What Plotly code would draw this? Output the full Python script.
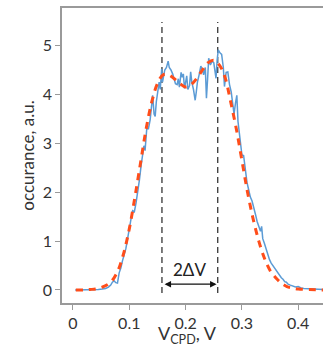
import plotly.graph_objects as go

# Measured distribution (blue, noisy)
meas_x = [0.004, 0.015, 0.025, 0.035, 0.045, 0.052, 0.058, 0.063, 0.067, 0.070, 0.073, 0.076, 0.079,
          0.082, 0.085, 0.088, 0.091, 0.094, 0.097, 0.100, 0.103, 0.106, 0.109, 0.112, 0.115, 0.118,
          0.121, 0.124, 0.126, 0.128, 0.131, 0.134, 0.137, 0.139, 0.1415, 0.144, 0.146, 0.148, 0.151,
          0.153, 0.155, 0.1575, 0.159, 0.161, 0.163, 0.166, 0.169, 0.171, 0.174, 0.177, 0.180, 0.182,
          0.185, 0.187, 0.189, 0.192, 0.194, 0.196, 0.198, 0.200, 0.202, 0.204, 0.207, 0.209, 0.211,
          0.214, 0.217, 0.219, 0.221, 0.224, 0.227, 0.230, 0.232, 0.235, 0.237, 0.239, 0.241, 0.244,
          0.247, 0.250, 0.252, 0.254, 0.256, 0.258, 0.261, 0.264, 0.267, 0.269, 0.272, 0.275, 0.278,
          0.281, 0.284, 0.286, 0.289, 0.291, 0.293, 0.295, 0.298, 0.300, 0.303, 0.306, 0.309, 0.312,
          0.315, 0.318, 0.321, 0.324, 0.327, 0.330, 0.333, 0.335, 0.337, 0.340, 0.343, 0.346, 0.349,
          0.352, 0.355, 0.358, 0.361, 0.364, 0.367, 0.370, 0.373, 0.376, 0.379, 0.382, 0.386, 0.390,
          0.395, 0.400, 0.405, 0.410, 0.420, 0.430, 0.445]
meas_y = [0.0, 0.0, 0.0, 0.0, 0.01, 0.02, 0.03, 0.06, 0.10, 0.16, 0.19, 0.15, 0.14,
          0.35, 0.45, 0.60, 0.72, 0.85, 1.05, 1.30, 1.45, 1.62, 1.60, 1.78, 2.00, 2.25,
          2.55, 2.80, 2.95, 2.85, 3.30, 3.30, 3.48, 3.70, 3.98, 3.60, 3.55, 3.85, 4.05,
          4.25, 4.10, 4.52, 4.25, 4.40, 4.50, 4.55, 4.68, 4.55, 4.50, 4.42, 4.30, 4.22,
          4.20, 4.32, 4.15, 4.45, 4.35, 4.42, 4.12, 4.30, 4.38, 4.10, 4.18, 4.46, 4.25,
          4.10, 3.88, 4.05, 4.25, 4.40, 4.58, 4.50, 4.40, 4.55, 3.92, 4.30, 4.74, 4.60,
          4.68, 4.65, 4.45, 4.33, 4.70, 4.91, 4.85, 4.82, 4.55, 4.16, 4.45, 4.46, 4.20,
          4.05, 3.78, 3.60, 3.85, 3.98, 3.45, 3.25, 2.95, 2.76, 2.75, 2.45, 2.20, 2.05,
          1.90, 1.82, 1.70, 1.55, 1.40, 1.28, 1.20, 1.30, 1.05, 0.95, 0.82, 0.70, 0.62,
          0.55, 0.50, 0.45, 0.38, 0.33, 0.30, 0.25, 0.22, 0.17, 0.16, 0.12, 0.10, 0.08,
          0.06, 0.07, 0.04, 0.03, 0.02, 0.01, 0.01]

# Fit (red dashed)
fit_x = [0.005, 0.02, 0.03, 0.04, 0.05, 0.06, 0.07, 0.08, 0.09, 0.10, 0.11, 0.12, 0.13, 0.14, 0.15,
         0.16, 0.17, 0.18, 0.19, 0.20, 0.21, 0.22, 0.23, 0.24, 0.25, 0.26, 0.27, 0.28, 0.29, 0.30,
         0.31, 0.32, 0.33, 0.34, 0.35, 0.36, 0.37, 0.38, 0.39, 0.40, 0.42, 0.445]
fit_y = [0.0, 0.0, 0.01, 0.02, 0.05, 0.10, 0.20, 0.40, 0.75, 1.25, 1.90, 2.60, 3.30, 3.85, 4.22,
         4.40, 4.40, 4.32, 4.22, 4.15, 4.20, 4.33, 4.50, 4.65, 4.70, 4.60, 4.35, 3.85, 3.30, 2.65,
         2.00, 1.45, 1.00, 0.65, 0.40, 0.25, 0.14, 0.07, 0.04, 0.02, 0.01, 0.0]

# Peak positions (vertical dashed guides) and annotation
peak_x = [0.158, 0.257]
guide_y = [-0.06, 5.48]
arrow_y = 0.12
label_text = "2ΔV"
label_y = 0.42

x_title = "V<sub>CPD</sub>, V"
y_title = "occurance, a.u."
x_ticks = [0, 0.1, 0.2, 0.3, 0.4]
x_tick_text = ["0", "0.1", "0.2", "0.3", "0.4"]
y_ticks = [0, 1, 2, 3, 4, 5]

fig = go.Figure()

for px in peak_x:
    fig.add_trace(go.Scatter(x=[px, px], y=guide_y, mode="lines",
                             line=dict(color="#444444", width=1.4, dash="6px,4px"),
                             showlegend=False, hoverinfo="skip"))

fig.add_trace(go.Scatter(x=meas_x, y=meas_y, mode="lines",
                         line=dict(color="#5B9BD5", width=1.5),
                         showlegend=False))
fig.add_trace(go.Scatter(x=fit_x, y=fit_y, mode="lines", line_shape="spline",
                         line=dict(color="#FF4D1A", width=3, dash="7px,6px"),
                         showlegend=False))

fig.add_annotation(x=peak_x[1] - 0.002, y=arrow_y, ax=peak_x[0] + 0.002, ay=arrow_y,
                   xref="x", yref="y", axref="x", ayref="y", text="",
                   showarrow=True, arrowhead=2, arrowside="end+start",
                   arrowsize=1, arrowwidth=1.3, arrowcolor="#111111")
fig.add_annotation(x=(peak_x[0] + peak_x[1]) / 2, y=label_y, xref="x", yref="y",
                   text=label_text, showarrow=False,
                   font=dict(size=17, color="#222222", family="Lato"))

# x axis title as an annotation, low at the bottom edge as in the source
fig.add_annotation(x=0.479, y=-0.155, xref="paper", yref="paper", xanchor="center", yanchor="bottom",
                   text=x_title, showarrow=False,
                   font=dict(size=18, color="#333333", family="Lato"))

fig.update_layout(
    width=323, height=349,
    margin=dict(l=62, r=0, t=8, b=46),
    paper_bgcolor="white", plot_bgcolor="white",
    font=dict(family="Lato", size=15, color="#333333"),
    xaxis=dict(range=[-0.0195, 0.444], tickvals=x_ticks, ticktext=x_tick_text,
               showline=True, linecolor="#9a9a9a", linewidth=1.5, mirror=True,
               ticks="outside", ticklen=5, tickcolor="#9a9a9a", showgrid=False, zeroline=False,
               tickfont=dict(size=16)),
    yaxis=dict(range=[-0.266, 5.767], tickvals=y_ticks,
               showline=True, linecolor="#9a9a9a", linewidth=1.5,
               ticks="outside", ticklen=5, tickcolor="#9a9a9a", showgrid=False, zeroline=False,
               tickfont=dict(size=16), automargin=True,
               title=dict(text=y_title, font=dict(size=17, color="#333333"), standoff=4)),
)

fig.write_html("out.html")
